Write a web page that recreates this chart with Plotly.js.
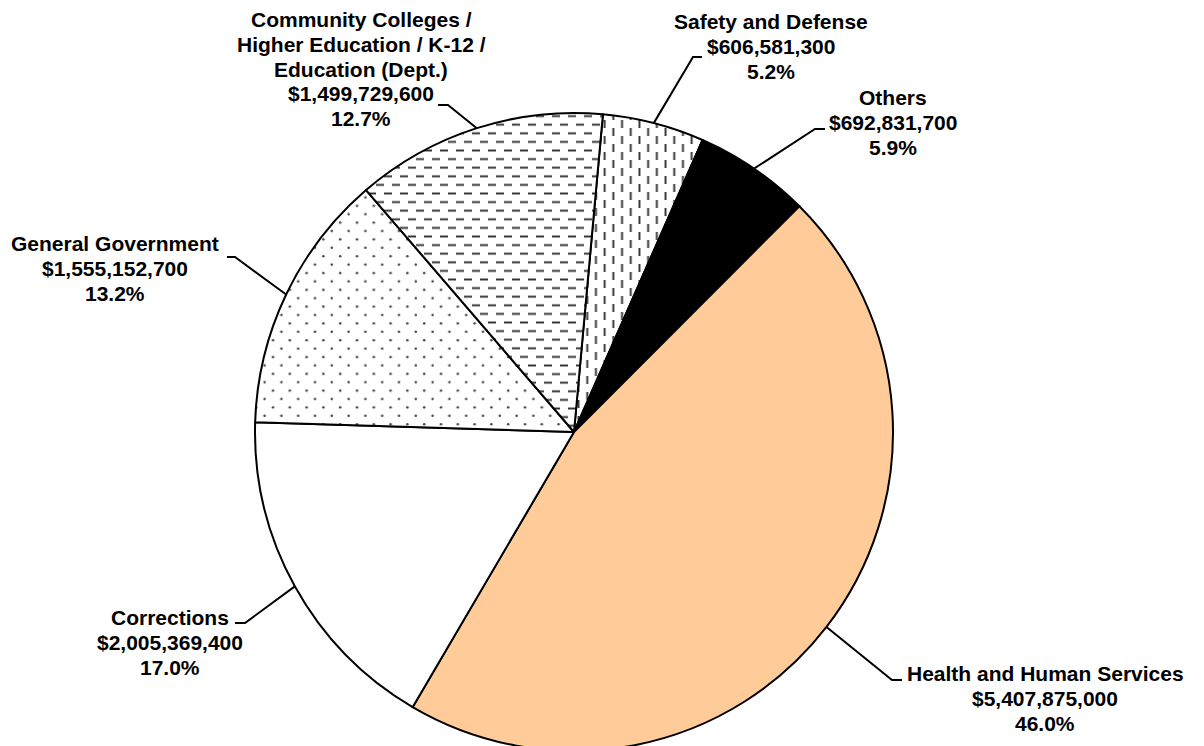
<!DOCTYPE html>
<html><head><meta charset="utf-8">
<script src="https://cdn.plot.ly/plotly-3.0.1.min.js"></script>
<style>html,body{margin:0;padding:0;overflow:hidden;background:#fff}#chart{width:1204px;height:756px}</style>
</head><body><div id="chart"></div>
<script>
// ---- data ----
const categories = [
  "Safety and Defense",
  "Others",
  "Health and Human Services",
  "Corrections",
  "General Government",
  "Community Colleges /\nHigher Education / K-12 /\nEducation (Dept.)"
];
const values = [606581300, 692831700, 5407875000, 2005369400, 1555152700, 1499729600];

// ---- styles ----
const sliceColors = ['#FFFFFF', '#000000', '#FFCC99', '#FFFFFF', '#FFFFFF', '#FFFFFF'];
const patternShapes = ['|', '', '', '', '.', '-'];
const patternSizes = [8.7, 8, 8, 8, 12, 8.6];
const patternSolidity = [0.22, 0.2, 0.2, 0.2, 0.035, 0.22];
const patternFg = ['#333', '#000', '#000', '#000', '#444', '#333'];
const dashLen = 8;       // dashed hatching: dash length (px)
const dotStep = 16.8;    // staggered dot grid step (px)

// ---- layout (pixels) ----
const W = 1204, H = 756;
const cx = 574, cy = 432, R = 319;
const rotation = 5.2;
const fs = 21, lineGap = 24.7;
const labelLayout = [
  {ex: 693, ey: 57,  hx: 702, tx: 771,  ty: 29},
  {ex: 815, ey: 129, hx: 825, tx: 893,  ty: 105},
  {ex: 892, ey: 680, hx: 902, tx: 1045, ty: 681},
  {ex: 245, ey: 623, hx: 235, tx: 170,  ty: 625},
  {ex: 235, ey: 257, hx: 227, tx: 115,  ty: 251},
  {ex: 448, ey: 105, hx: 438, tx: 361,  ty: 27}
];

const px = x => x / W;
const py = y => 1 - y / H;

const total = values.reduce((a, b) => a + b, 0);
const shapes = [];
const annotations = [];
let cum = 0;
values.forEach((v, i) => {
  const mid = (rotation + 360 * (cum + v / 2) / total) * Math.PI / 180;
  cum += v;
  const x0 = cx + R * Math.sin(mid), y0 = cy - R * Math.cos(mid);
  const L = labelLayout[i];
  shapes.push({
    type: 'path', xref: 'paper', yref: 'paper',
    path: `M${px(x0)},${py(y0)} L${px(L.ex)},${py(L.ey)} L${px(L.hx)},${py(L.ey)}`,
    line: {color: '#000', width: 2}
  });
  const lines = categories[i].split('\n').concat([
    '$' + v.toLocaleString('en-US'),
    (v / total * 100).toFixed(1) + '%'
  ]);
  lines.forEach((t, k) => {
    annotations.push({
      xref: 'paper', yref: 'paper', showarrow: false,
      x: px(L.tx), y: py(L.ty + k * lineGap - 0.347 * fs),
      xanchor: 'center', yanchor: 'middle',
      text: t,
      font: {family: '"Liberation Sans", Arial, sans-serif', size: fs, color: '#000', weight: 700}
    });
  });
});

const trace = {
  type: 'pie',
  labels: categories,
  values: values,
  sort: false,
  direction: 'clockwise',
  rotation: rotation,
  textinfo: 'none',
  hoverinfo: 'skip',
  domain: {x: [px(cx - R), px(cx + R)], y: [py(cy + R), py(cy - R)]},
  marker: {
    colors: sliceColors,
    line: {color: '#000', width: 2},
    pattern: {
      shape: patternShapes,
      size: patternSizes,
      solidity: patternSolidity,
      fgcolor: patternFg,
      bgcolor: sliceColors,
      fillmode: 'replace'
    }
  }
};

// turn Plotly's continuous hatch lines into staggered dashes, and dots into a staggered grid
function restylePatterns(gd) {
  gd.querySelectorAll('pattern').forEach(p => {
    const w = parseFloat(p.getAttribute('width'));
    const h = parseFloat(p.getAttribute('height'));
    const rect = p.querySelector('rect');
    const path = p.querySelector('path');
    const circ = p.querySelector('circle');
    if (path) {
      const nums = ((path.getAttribute('d') || '').match(/-?\d*\.?\d+/g) || []).map(Number);
      if (nums.length !== 4) return;
      let nw, nh, nd;
      if (Math.abs(nums[1] - nums[3]) < 1e-6) {          // horizontal line
        nw = 2 * dashLen; nh = 2 * h;
        nd = `M0,${h / 2}H${dashLen}M${dashLen},${1.5 * h}H${2 * dashLen}`;
      } else if (Math.abs(nums[0] - nums[2]) < 1e-6) {   // vertical line
        nw = 2 * w; nh = 2 * dashLen;
        nd = `M${w / 2},0V${dashLen}M${1.5 * w},${dashLen}V${2 * dashLen}`;
      } else return;
      p.setAttribute('width', nw); p.setAttribute('height', nh);
      if (rect) { rect.setAttribute('width', nw); rect.setAttribute('height', nh); }
      path.setAttribute('d', nd);
    } else if (circ) {
      const s = dotStep;
      p.setAttribute('width', s); p.setAttribute('height', s);
      if (rect) { rect.setAttribute('width', s); rect.setAttribute('height', s); }
      circ.setAttribute('cx', s / 4); circ.setAttribute('cy', s / 4);
      const c2 = circ.cloneNode(true);
      c2.setAttribute('cx', 3 * s / 4); c2.setAttribute('cy', 3 * s / 4);
      p.appendChild(c2);
    }
  });
}

Plotly.newPlot('chart', [trace], {
  width: W, height: H,
  margin: {l: 0, r: 0, t: 0, b: 0},
  showlegend: false,
  paper_bgcolor: '#fff',
  plot_bgcolor: '#fff',
  shapes: shapes,
  annotations: annotations
}, {staticPlot: true}).then(restylePatterns);
</script>
</body></html>
